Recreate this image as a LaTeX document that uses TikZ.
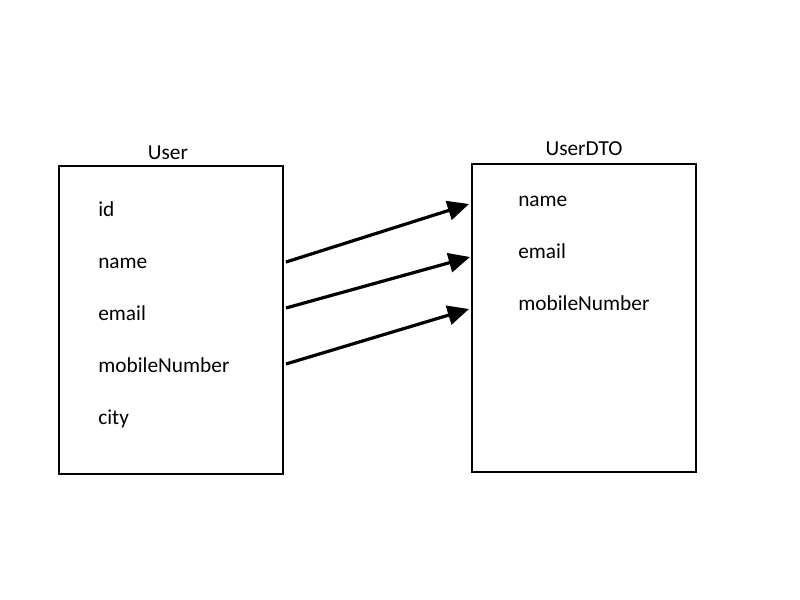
\documentclass[tikz,border=0pt]{standalone}
\usepackage{fontspec}
\setmainfont{Carlito}
\usetikzlibrary{arrows.meta}
\begin{document}
\begin{tikzpicture}[x=0.75pt,y=-0.75pt,
  box/.style={draw=black,line width=1.5pt},
  field/.style={anchor=base west,inner sep=0pt,font=\fontsize{16}{19}\selectfont},
  title/.style={anchor=base,inner sep=0pt,font=\fontsize{16}{19}\selectfont},
  conn/.style={line width=2.4pt,-{Triangle[length=16pt,width=14.5pt]}}]
\useasboundingbox (0,0) rectangle (800,600);
\draw[box] (59,166) rectangle (283,474);
\draw[box] (472,164) rectangle (696,472);
\node[title] (t1) at (168,159) {User};
\node[title] (t2) at (584,155) {UserDTO};
\node[field] (uid) at (98,216) {id};
\node[field] (uname) at (98,268) {name};
\node[field] (uemail) at (98,320) {email};
\node[field] (umob) at (98,372) {mobileNumber};
\node[field] (ucity) at (98,424) {city};
\node[field] (dname) at (518,206) {name};
\node[field] (demail) at (518,258) {email};
\node[field] (dmob) at (518,310) {mobileNumber};
\coordinate (a1) at (286,262);
\coordinate (b1) at (469,204);
\coordinate (a2) at (286,308);
\coordinate (b2) at (470,257);
\coordinate (a3) at (286,364);
\coordinate (b3) at (469,309);
\draw[conn] (a1) -- (b1);
\draw[conn] (a2) -- (b2);
\draw[conn] (a3) -- (b3);
\end{tikzpicture}
\end{document}
